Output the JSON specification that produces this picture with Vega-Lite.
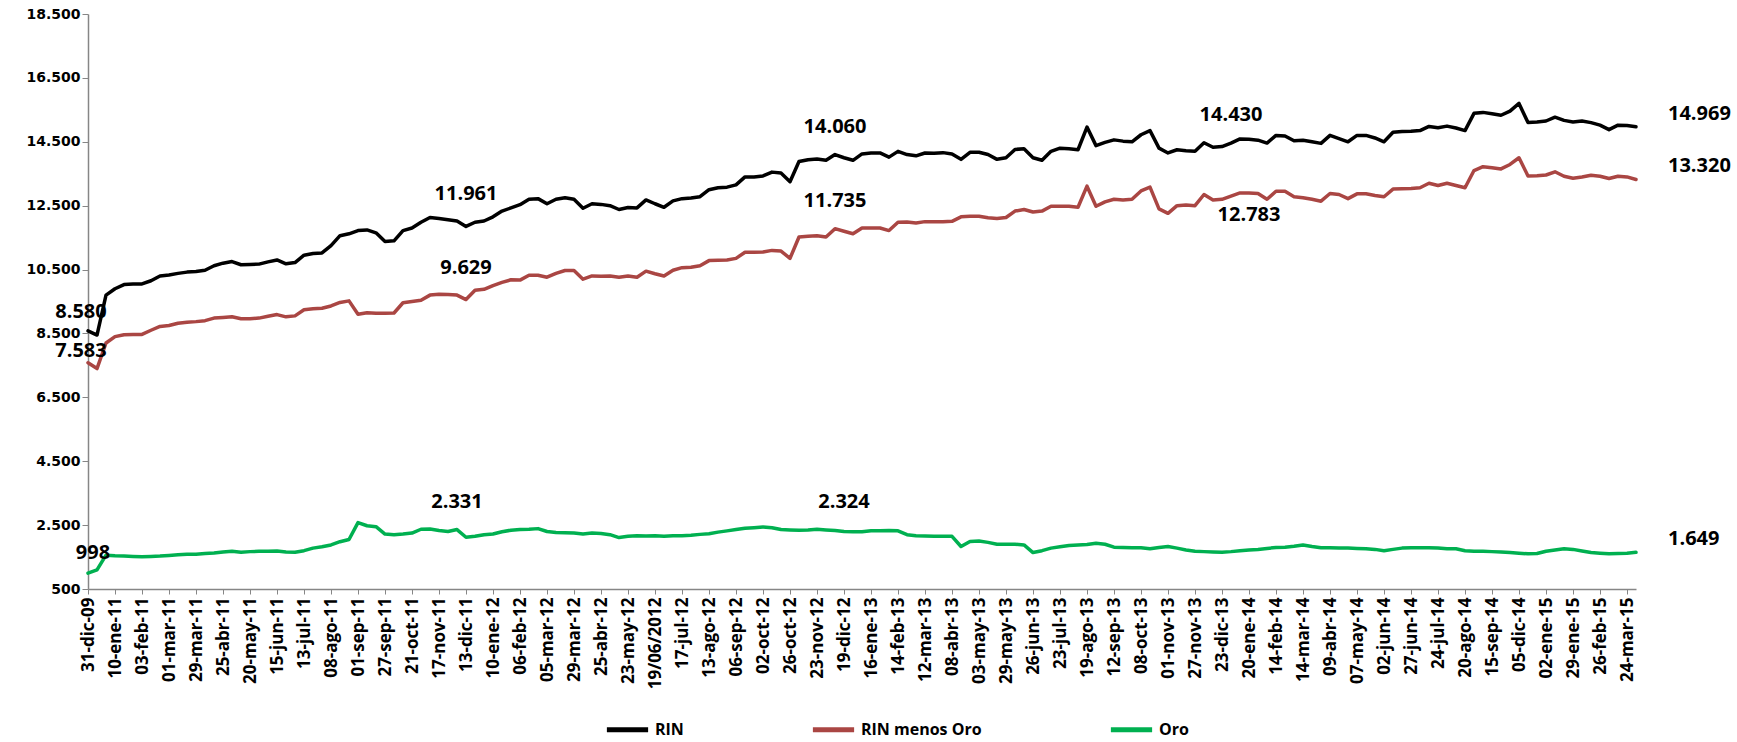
{
  "$schema": "https://vega.github.io/schema/vega-lite/v6.json",
  "width": 1548,
  "height": 575,
  "autosize": {"type": "none"},
  "padding": {"left": 88, "top": 14, "right": 101, "bottom": 153},
  "background": "#ffffff",
  "config": {
    "view": {"stroke": null},
    "locale": {"number": {"decimal": ",", "thousands": ".", "grouping": [3], "currency": ["", ""]}}
  },
  "datasets": {
    "serie": [
      {"f":"31-dic-09","RIN":8580,"RIN menos Oro":7583,"Oro":998},
      {"f":"14-dic-10","RIN":8450,"RIN menos Oro":7400,"Oro":1100},
      {"f":"22-dic-10","RIN":9700,"RIN menos Oro":8200,"Oro":1560},
      {"f":"10-ene-11","RIN":9900,"RIN menos Oro":8400,"Oro":1540},
      {"f":"18-ene-11","RIN":10030,"RIN menos Oro":8460,"Oro":1530},
      {"f":"26-ene-11","RIN":10050,"RIN menos Oro":8470,"Oro":1520},
      {"f":"03-feb-11","RIN":10050,"RIN menos Oro":8470,"Oro":1510},
      {"f":"11-feb-11","RIN":10150,"RIN menos Oro":8600,"Oro":1520},
      {"f":"21-feb-11","RIN":10300,"RIN menos Oro":8720,"Oro":1530},
      {"f":"01-mar-11","RIN":10330,"RIN menos Oro":8750,"Oro":1550},
      {"f":"10-mar-11","RIN":10380,"RIN menos Oro":8820,"Oro":1570},
      {"f":"18-mar-11","RIN":10420,"RIN menos Oro":8850,"Oro":1590},
      {"f":"29-mar-11","RIN":10440,"RIN menos Oro":8870,"Oro":1590},
      {"f":"06-abr-11","RIN":10480,"RIN menos Oro":8900,"Oro":1610},
      {"f":"14-abr-11","RIN":10620,"RIN menos Oro":8980,"Oro":1630},
      {"f":"25-abr-11","RIN":10700,"RIN menos Oro":9000,"Oro":1660},
      {"f":"03-may-11","RIN":10750,"RIN menos Oro":9020,"Oro":1680},
      {"f":"11-may-11","RIN":10650,"RIN menos Oro":8960,"Oro":1650},
      {"f":"20-may-11","RIN":10660,"RIN menos Oro":8960,"Oro":1670},
      {"f":"30-may-11","RIN":10670,"RIN menos Oro":8980,"Oro":1680},
      {"f":"07-jun-11","RIN":10740,"RIN menos Oro":9040,"Oro":1680},
      {"f":"15-jun-11","RIN":10800,"RIN menos Oro":9090,"Oro":1690},
      {"f":"23-jun-11","RIN":10680,"RIN menos Oro":9020,"Oro":1660},
      {"f":"04-jul-11","RIN":10720,"RIN menos Oro":9050,"Oro":1650},
      {"f":"13-jul-11","RIN":10950,"RIN menos Oro":9240,"Oro":1700},
      {"f":"21-jul-11","RIN":11000,"RIN menos Oro":9270,"Oro":1780},
      {"f":"29-jul-11","RIN":11020,"RIN menos Oro":9290,"Oro":1820},
      {"f":"08-ago-11","RIN":11250,"RIN menos Oro":9360,"Oro":1880},
      {"f":"16-ago-11","RIN":11560,"RIN menos Oro":9470,"Oro":1980},
      {"f":"24-ago-11","RIN":11620,"RIN menos Oro":9520,"Oro":2050},
      {"f":"01-sep-11","RIN":11720,"RIN menos Oro":9100,"Oro":2580},
      {"f":"09-sep-11","RIN":11740,"RIN menos Oro":9150,"Oro":2480},
      {"f":"19-sep-11","RIN":11650,"RIN menos Oro":9130,"Oro":2450},
      {"f":"27-sep-11","RIN":11380,"RIN menos Oro":9130,"Oro":2220},
      {"f":"05-oct-11","RIN":11400,"RIN menos Oro":9140,"Oro":2200},
      {"f":"13-oct-11","RIN":11720,"RIN menos Oro":9460,"Oro":2220},
      {"f":"21-oct-11","RIN":11800,"RIN menos Oro":9500,"Oro":2250},
      {"f":"31-oct-11","RIN":11980,"RIN menos Oro":9540,"Oro":2370},
      {"f":"08-nov-11","RIN":12130,"RIN menos Oro":9700,"Oro":2380},
      {"f":"17-nov-11","RIN":12100,"RIN menos Oro":9730,"Oro":2330},
      {"f":"25-nov-11","RIN":12060,"RIN menos Oro":9720,"Oro":2300},
      {"f":"05-dic-11","RIN":12020,"RIN menos Oro":9700,"Oro":2360},
      {"f":"13-dic-11","RIN":11850,"RIN menos Oro":9560,"Oro":2120},
      {"f":"21-dic-11","RIN":11980,"RIN menos Oro":9850,"Oro":2150},
      {"f":"30-dic-11","RIN":12020,"RIN menos Oro":9880,"Oro":2200},
      {"f":"10-ene-12","RIN":12150,"RIN menos Oro":10000,"Oro":2220},
      {"f":"18-ene-12","RIN":12330,"RIN menos Oro":10100,"Oro":2290},
      {"f":"26-ene-12","RIN":12430,"RIN menos Oro":10180,"Oro":2340},
      {"f":"06-feb-12","RIN":12530,"RIN menos Oro":10170,"Oro":2360},
      {"f":"14-feb-12","RIN":12700,"RIN menos Oro":10320,"Oro":2370},
      {"f":"24-feb-12","RIN":12720,"RIN menos Oro":10320,"Oro":2390},
      {"f":"05-mar-12","RIN":12560,"RIN menos Oro":10260,"Oro":2300},
      {"f":"13-mar-12","RIN":12700,"RIN menos Oro":10380,"Oro":2270},
      {"f":"21-mar-12","RIN":12750,"RIN menos Oro":10470,"Oro":2260},
      {"f":"29-mar-12","RIN":12700,"RIN menos Oro":10470,"Oro":2250},
      {"f":"09-abr-12","RIN":12420,"RIN menos Oro":10200,"Oro":2220},
      {"f":"17-abr-12","RIN":12560,"RIN menos Oro":10300,"Oro":2250},
      {"f":"25-abr-12","RIN":12540,"RIN menos Oro":10290,"Oro":2240},
      {"f":"04-may-12","RIN":12500,"RIN menos Oro":10300,"Oro":2200},
      {"f":"14-may-12","RIN":12380,"RIN menos Oro":10260,"Oro":2110},
      {"f":"23-may-12","RIN":12440,"RIN menos Oro":10300,"Oro":2150},
      {"f":"31-may-12","RIN":12430,"RIN menos Oro":10260,"Oro":2170},
      {"f":"11-jun-12","RIN":12680,"RIN menos Oro":10450,"Oro":2160},
      {"f":"19/06/2012","RIN":12560,"RIN menos Oro":10370,"Oro":2170},
      {"f":"27-jun-12","RIN":12450,"RIN menos Oro":10300,"Oro":2150},
      {"f":"06-jul-12","RIN":12650,"RIN menos Oro":10480,"Oro":2170},
      {"f":"17-jul-12","RIN":12720,"RIN menos Oro":10560,"Oro":2170},
      {"f":"25-jul-12","RIN":12740,"RIN menos Oro":10570,"Oro":2180},
      {"f":"02-ago-12","RIN":12780,"RIN menos Oro":10620,"Oro":2210},
      {"f":"13-ago-12","RIN":13000,"RIN menos Oro":10780,"Oro":2230},
      {"f":"21-ago-12","RIN":13060,"RIN menos Oro":10790,"Oro":2280},
      {"f":"29-ago-12","RIN":13080,"RIN menos Oro":10800,"Oro":2320},
      {"f":"06-sep-12","RIN":13150,"RIN menos Oro":10850,"Oro":2360},
      {"f":"14-sep-12","RIN":13400,"RIN menos Oro":11040,"Oro":2400},
      {"f":"24-sep-12","RIN":13400,"RIN menos Oro":11040,"Oro":2420},
      {"f":"02-oct-12","RIN":13430,"RIN menos Oro":11050,"Oro":2440},
      {"f":"10-oct-12","RIN":13550,"RIN menos Oro":11100,"Oro":2420},
      {"f":"18-oct-12","RIN":13520,"RIN menos Oro":11080,"Oro":2360},
      {"f":"26-oct-12","RIN":13250,"RIN menos Oro":10850,"Oro":2350},
      {"f":"05-nov-12","RIN":13880,"RIN menos Oro":11520,"Oro":2340},
      {"f":"13-nov-12","RIN":13940,"RIN menos Oro":11540,"Oro":2350},
      {"f":"23-nov-12","RIN":13960,"RIN menos Oro":11560,"Oro":2370},
      {"f":"03-dic-12","RIN":13920,"RIN menos Oro":11520,"Oro":2350},
      {"f":"11-dic-12","RIN":14100,"RIN menos Oro":11780,"Oro":2330},
      {"f":"19-dic-12","RIN":14000,"RIN menos Oro":11700,"Oro":2300},
      {"f":"28-dic-12","RIN":13920,"RIN menos Oro":11620,"Oro":2290},
      {"f":"08-ene-13","RIN":14120,"RIN menos Oro":11800,"Oro":2290},
      {"f":"16-ene-13","RIN":14150,"RIN menos Oro":11800,"Oro":2320},
      {"f":"24-ene-13","RIN":14150,"RIN menos Oro":11800,"Oro":2320},
      {"f":"04-feb-13","RIN":14020,"RIN menos Oro":11720,"Oro":2330},
      {"f":"14-feb-13","RIN":14200,"RIN menos Oro":11980,"Oro":2320},
      {"f":"22-feb-13","RIN":14100,"RIN menos Oro":11990,"Oro":2200},
      {"f":"04-mar-13","RIN":14060,"RIN menos Oro":11960,"Oro":2170},
      {"f":"12-mar-13","RIN":14150,"RIN menos Oro":12000,"Oro":2160},
      {"f":"20-mar-13","RIN":14140,"RIN menos Oro":12000,"Oro":2150},
      {"f":"29-mar-13","RIN":14160,"RIN menos Oro":12000,"Oro":2150},
      {"f":"08-abr-13","RIN":14120,"RIN menos Oro":12010,"Oro":2150},
      {"f":"16-abr-13","RIN":13950,"RIN menos Oro":12150,"Oro":1830},
      {"f":"24-abr-13","RIN":14170,"RIN menos Oro":12170,"Oro":1990},
      {"f":"03-may-13","RIN":14170,"RIN menos Oro":12170,"Oro":2000},
      {"f":"13-may-13","RIN":14100,"RIN menos Oro":12120,"Oro":1960},
      {"f":"21-may-13","RIN":13950,"RIN menos Oro":12100,"Oro":1900},
      {"f":"29-may-13","RIN":14000,"RIN menos Oro":12130,"Oro":1900},
      {"f":"06-jun-13","RIN":14260,"RIN menos Oro":12330,"Oro":1900},
      {"f":"14-jun-13","RIN":14280,"RIN menos Oro":12380,"Oro":1880},
      {"f":"26-jun-13","RIN":14000,"RIN menos Oro":12300,"Oro":1640},
      {"f":"04-jul-13","RIN":13920,"RIN menos Oro":12330,"Oro":1700},
      {"f":"12-jul-13","RIN":14200,"RIN menos Oro":12480,"Oro":1780},
      {"f":"23-jul-13","RIN":14300,"RIN menos Oro":12480,"Oro":1820},
      {"f":"31-jul-13","RIN":14280,"RIN menos Oro":12480,"Oro":1860},
      {"f":"08-ago-13","RIN":14250,"RIN menos Oro":12450,"Oro":1880},
      {"f":"19-ago-13","RIN":14960,"RIN menos Oro":13110,"Oro":1890},
      {"f":"27-ago-13","RIN":14380,"RIN menos Oro":12480,"Oro":1930},
      {"f":"04-sep-13","RIN":14480,"RIN menos Oro":12620,"Oro":1900},
      {"f":"12-sep-13","RIN":14560,"RIN menos Oro":12700,"Oro":1810},
      {"f":"20-sep-13","RIN":14520,"RIN menos Oro":12680,"Oro":1800},
      {"f":"30-sep-13","RIN":14500,"RIN menos Oro":12700,"Oro":1790},
      {"f":"08-oct-13","RIN":14720,"RIN menos Oro":12960,"Oro":1790},
      {"f":"16-oct-13","RIN":14850,"RIN menos Oro":13080,"Oro":1760},
      {"f":"24-oct-13","RIN":14300,"RIN menos Oro":12400,"Oro":1800},
      {"f":"01-nov-13","RIN":14150,"RIN menos Oro":12260,"Oro":1830},
      {"f":"11-nov-13","RIN":14250,"RIN menos Oro":12500,"Oro":1780},
      {"f":"19-nov-13","RIN":14220,"RIN menos Oro":12520,"Oro":1720},
      {"f":"27-nov-13","RIN":14200,"RIN menos Oro":12500,"Oro":1680},
      {"f":"05-dic-13","RIN":14470,"RIN menos Oro":12850,"Oro":1670},
      {"f":"13-dic-13","RIN":14330,"RIN menos Oro":12680,"Oro":1660},
      {"f":"23-dic-13","RIN":14350,"RIN menos Oro":12700,"Oro":1650},
      {"f":"02-ene-14","RIN":14460,"RIN menos Oro":12800,"Oro":1670},
      {"f":"10-ene-14","RIN":14590,"RIN menos Oro":12900,"Oro":1700},
      {"f":"20-ene-14","RIN":14580,"RIN menos Oro":12900,"Oro":1720},
      {"f":"28-ene-14","RIN":14550,"RIN menos Oro":12880,"Oro":1740},
      {"f":"05-feb-14","RIN":14460,"RIN menos Oro":12700,"Oro":1770},
      {"f":"14-feb-14","RIN":14700,"RIN menos Oro":12950,"Oro":1800},
      {"f":"24-feb-14","RIN":14680,"RIN menos Oro":12950,"Oro":1810},
      {"f":"04-mar-14","RIN":14530,"RIN menos Oro":12780,"Oro":1840},
      {"f":"14-mar-14","RIN":14550,"RIN menos Oro":12750,"Oro":1880},
      {"f":"24-mar-14","RIN":14500,"RIN menos Oro":12700,"Oro":1830},
      {"f":"01-abr-14","RIN":14450,"RIN menos Oro":12640,"Oro":1790},
      {"f":"09-abr-14","RIN":14700,"RIN menos Oro":12880,"Oro":1790},
      {"f":"21-abr-14","RIN":14600,"RIN menos Oro":12850,"Oro":1780},
      {"f":"29-abr-14","RIN":14500,"RIN menos Oro":12720,"Oro":1780},
      {"f":"07-may-14","RIN":14700,"RIN menos Oro":12870,"Oro":1770},
      {"f":"15-may-14","RIN":14700,"RIN menos Oro":12870,"Oro":1760},
      {"f":"23-may-14","RIN":14620,"RIN menos Oro":12820,"Oro":1740},
      {"f":"02-jun-14","RIN":14500,"RIN menos Oro":12780,"Oro":1700},
      {"f":"10-jun-14","RIN":14800,"RIN menos Oro":13020,"Oro":1740},
      {"f":"18-jun-14","RIN":14820,"RIN menos Oro":13030,"Oro":1780},
      {"f":"27-jun-14","RIN":14830,"RIN menos Oro":13040,"Oro":1790},
      {"f":"07-jul-14","RIN":14850,"RIN menos Oro":13060,"Oro":1790},
      {"f":"15-jul-14","RIN":14980,"RIN menos Oro":13200,"Oro":1790},
      {"f":"24-jul-14","RIN":14940,"RIN menos Oro":13130,"Oro":1780},
      {"f":"01-ago-14","RIN":14990,"RIN menos Oro":13200,"Oro":1760},
      {"f":"11-ago-14","RIN":14930,"RIN menos Oro":13130,"Oro":1760},
      {"f":"20-ago-14","RIN":14850,"RIN menos Oro":13060,"Oro":1700},
      {"f":"28-ago-14","RIN":15390,"RIN menos Oro":13600,"Oro":1680},
      {"f":"05-sep-14","RIN":15420,"RIN menos Oro":13720,"Oro":1680},
      {"f":"15-sep-14","RIN":15380,"RIN menos Oro":13690,"Oro":1670},
      {"f":"10-oct-14","RIN":15330,"RIN menos Oro":13650,"Oro":1660},
      {"f":"07-nov-14","RIN":15460,"RIN menos Oro":13790,"Oro":1640},
      {"f":"05-dic-14","RIN":15700,"RIN menos Oro":14000,"Oro":1620},
      {"f":"15-dic-14","RIN":15100,"RIN menos Oro":13430,"Oro":1600},
      {"f":"23-dic-14","RIN":15120,"RIN menos Oro":13440,"Oro":1610},
      {"f":"02-ene-15","RIN":15150,"RIN menos Oro":13460,"Oro":1680},
      {"f":"12-ene-15","RIN":15270,"RIN menos Oro":13560,"Oro":1720},
      {"f":"20-ene-15","RIN":15170,"RIN menos Oro":13420,"Oro":1760},
      {"f":"29-ene-15","RIN":15120,"RIN menos Oro":13360,"Oro":1740},
      {"f":"06-feb-15","RIN":15150,"RIN menos Oro":13400,"Oro":1690},
      {"f":"16-feb-15","RIN":15100,"RIN menos Oro":13450,"Oro":1640},
      {"f":"26-feb-15","RIN":15020,"RIN menos Oro":13420,"Oro":1620},
      {"f":"06-mar-15","RIN":14880,"RIN menos Oro":13350,"Oro":1600},
      {"f":"16-mar-15","RIN":15020,"RIN menos Oro":13420,"Oro":1610},
      {"f":"24-mar-15","RIN":15010,"RIN menos Oro":13400,"Oro":1620},
      {"f":"01-abr-15","RIN":14969,"RIN menos Oro":13320,"Oro":1649}
    ]
  },
  "encoding": {
    "x": {
      "field": "f",
      "type": "ordinal",
      "sort": null,
      "scale": {"type": "point", "padding": 0},
      "axis": {
        "title": null,
        "values": ["31-dic-09","10-ene-11","03-feb-11","01-mar-11","29-mar-11","25-abr-11","20-may-11","15-jun-11","13-jul-11","08-ago-11","01-sep-11","27-sep-11","21-oct-11","17-nov-11","13-dic-11","10-ene-12","06-feb-12","05-mar-12","29-mar-12","25-abr-12","23-may-12","19/06/2012","17-jul-12","13-ago-12","06-sep-12","02-oct-12","26-oct-12","23-nov-12","19-dic-12","16-ene-13","14-feb-13","12-mar-13","08-abr-13","03-may-13","29-may-13","26-jun-13","23-jul-13","19-ago-13","12-sep-13","08-oct-13","01-nov-13","27-nov-13","23-dic-13","20-ene-14","14-feb-14","14-mar-14","09-abr-14","07-may-14","02-jun-14","27-jun-14","24-jul-14","20-ago-14","15-sep-14","05-dic-14","02-ene-15","29-ene-15","26-feb-15","24-mar-15"],
        "labelAngle": -90,
        "labelFont": "Open Sans",
        "labelFontSize": 17,
        "labelFontWeight": "bold",
        "labelColor": "#000000",
        "labelOverlap": false,
        "labelPadding": 3,
        "tickSize": 5,
        "tickColor": "#868686",
        "domainColor": "#868686",
        "domainWidth": 1.5,
        "grid": false
      }
    },
    "y": {
      "field": "valor",
      "type": "quantitative",
      "scale": {"domain": [500, 18500], "nice": false, "zero": false},
      "axis": {
        "title": null,
        "values": [500, 2500, 4500, 6500, 8500, 10500, 12500, 14500, 16500, 18500],
        "format": ",d",
        "labelFont": "DejaVu Sans",
        "labelFontSize": 14,
        "labelFontWeight": "bold",
        "labelColor": "#000000",
        "labelPadding": 2,
        "tickSize": 6,
        "tickColor": "#868686",
        "domainColor": "#868686",
        "domainWidth": 1.5,
        "grid": false
      }
    }
  },
  "layer": [
    {
      "data": {"name": "serie"},
      "transform": [{"fold": ["RIN", "RIN menos Oro", "Oro"], "as": ["serie", "valor"]}],
      "mark": {"type": "line", "strokeWidth": 3.5, "strokeJoin": "round", "strokeCap": "round"},
      "encoding": {
        "color": {
          "field": "serie",
          "type": "nominal",
          "scale": {"domain": ["RIN", "RIN menos Oro", "Oro"], "range": ["#000000", "#AA4643", "#00B050"]},
          "legend": {
            "title": null,
            "orient": "none",
            "direction": "horizontal",
            "legendX": 516,
            "legendY": 692,
            "padding": 0,
            "symbolType": "stroke",
            "symbolSize": 1700,
            "symbolStrokeWidth": 5,
            "labelFont": "Open Sans",
            "labelFontSize": 16,
            "labelFontWeight": "bold",
            "labelColor": "#000000",
            "labelOffset": 4,
            "columnPadding": 118
          }
        }
      }
    },
    {
      "data": {"values": [
        {"f": "13-dic-11", "valor": 11961},
        {"f": "13-dic-11", "valor": 9629},
        {"f": "05-dic-11", "valor": 2331},
        {"f": "11-dic-12", "valor": 14060},
        {"f": "11-dic-12", "valor": 11735},
        {"f": "19-dic-12", "valor": 2324},
        {"f": "02-ene-14", "valor": 14430}
      ]},
      "mark": {"type": "text", "font": "Open Sans", "fontSize": 20, "fontWeight": "bold", "color": "#000000", "baseline": "middle", "dy": -29},
      "encoding": {"text": {"field": "valor", "type": "quantitative", "format": ",d"}}
    },
    {
      "data": {"values": [{"f": "20-ene-14", "valor": 12783}]},
      "mark": {"type": "text", "font": "Open Sans", "fontSize": 20, "fontWeight": "bold", "color": "#000000", "baseline": "middle", "dy": 18},
      "encoding": {"text": {"field": "valor", "type": "quantitative", "format": ",d"}}
    },
    {
      "data": {"values": [{"f": "31-dic-09", "valor": 8580}]},
      "mark": {"type": "text", "font": "Open Sans", "fontSize": 20, "fontWeight": "bold", "color": "#000000", "baseline": "middle", "dy": -19, "dx": -7},
      "encoding": {"text": {"field": "valor", "type": "quantitative", "format": ",d"}}
    },
    {
      "data": {"values": [{"f": "31-dic-09", "valor": 7583}]},
      "mark": {"type": "text", "font": "Open Sans", "fontSize": 20, "fontWeight": "bold", "color": "#000000", "baseline": "middle", "dy": -12, "dx": -7},
      "encoding": {"text": {"field": "valor", "type": "quantitative", "format": ",d"}}
    },
    {
      "data": {"values": [{"f": "31-dic-09", "valor": 998}]},
      "mark": {"type": "text", "font": "Open Sans", "fontSize": 20, "fontWeight": "bold", "color": "#000000", "baseline": "middle", "dy": -20, "dx": 5},
      "encoding": {"text": {"field": "valor", "type": "quantitative", "format": ",d"}}
    },
    {
      "data": {"values": [{"f": "01-abr-15", "valor": 14969}, {"f": "01-abr-15", "valor": 13320}, {"f": "01-abr-15", "valor": 1649}]},
      "mark": {"type": "text", "font": "Open Sans", "fontSize": 20, "fontWeight": "bold", "color": "#000000", "baseline": "middle", "align": "left", "dx": 32, "dy": -13},
      "encoding": {"text": {"field": "valor", "type": "quantitative", "format": ",d"}}
    }
  ]
}
